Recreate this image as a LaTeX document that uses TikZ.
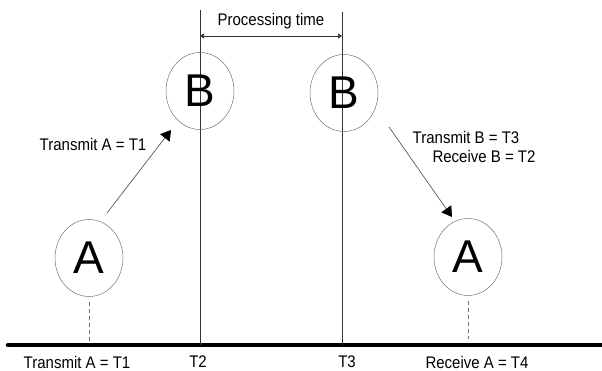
\documentclass[tikz,border=0pt]{standalone}
\usepackage{fontspec}
\setmainfont{Liberation Sans}
\usetikzlibrary{arrows.meta,shapes.geometric}
\tikzset{
  peer/.style={ellipse,draw=black!55,line width=0.5pt,minimum width=68pt,minimum height=77pt,inner sep=0pt,font=\fontsize{46}{46}\selectfont},
  lbl/.style={font=\fontsize{15}{15}\selectfont,inner sep=0pt,yscale=1.12},
  msg/.style={draw=black!65,line width=0.7pt,-{Triangle[length=10pt,width=12pt,color=black,fill=black]}},
  tick/.style={draw=black!80,line width=0.6pt},
  drop/.style={draw=black!55,line width=0.6pt,dash pattern=on 4pt off 3pt},
}
\begin{document}
\begin{tikzpicture}[x=1pt,y=-1pt]
\useasboundingbox (0,0) rectangle (602,371);
\draw[line width=4.5pt,line cap=round] (8,345) coordinate (start) -- (604,345) coordinate (finish);
\draw[tick] (200,10) coordinate (t2top) -- (200,345) coordinate (t2);
\draw[tick] (342,12) coordinate (t3top) -- (342,345) coordinate (t3);
\draw[tick,{Triangle[length=4pt,width=5pt]}-{Triangle[length=4pt,width=5pt]}] (200,36) -- node[lbl,above,yshift=6pt] {Processing time} (342,36);
\node[peer] (a1) at (89,258) {A};
\node[peer] (b1) at (200,91) {B};
\node[peer] (b2) at (344,93) {B};
\node[peer] (a2) at (468,257) {A};
\draw[drop] (a1.south) ++(0,5) -- (89,343);
\draw[drop] (a2.south) ++(0,5) -- (468,339);
\coordinate (t1s) at (107,213);
\coordinate (t1e) at (171,130);
\coordinate (t3s) at (389,127);
\coordinate (t3e) at (452,217);
\draw[msg] (t1s) -- (t1e);
\draw[msg] (t3s) -- (t3e);
\node[lbl] (sendA) at (93,144) {Transmit A = T1};
\node[lbl] (sendB) at (466,137) {Transmit B = T3};
\node[lbl] (recvB) at (484,156) {Receive B = T2};
\node[lbl] (x1) at (77,362) {Transmit A = T1};
\node[lbl] (x2) at (198,362) {T2};
\node[lbl] (x3) at (347,362) {T3};
\node[lbl] (x4) at (477,362) {Receive A = T4};
\end{tikzpicture}
\end{document}
